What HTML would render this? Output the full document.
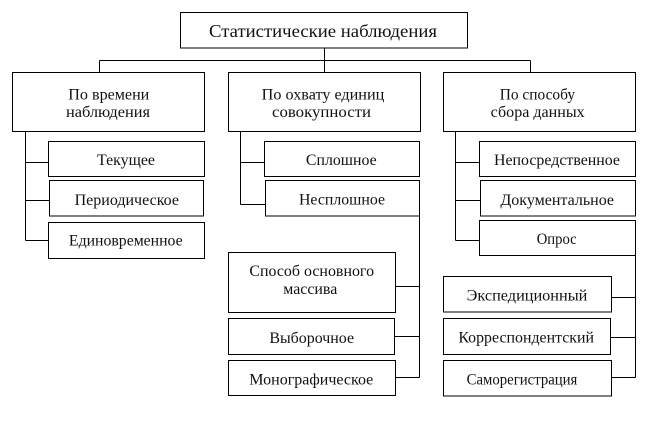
<!DOCTYPE html>
<html>
<head>
<meta charset="utf-8">
<style>
  html, body { margin: 0; padding: 0; background: #ffffff; }
  svg { display: block; }
  text { font-family: "Liberation Serif", "DejaVu Serif", serif; fill: #111; }
</style>
</head>
<body>
<svg width="648" height="432" viewBox="0 0 648 432" xmlns="http://www.w3.org/2000/svg">
  <rect x="0" y="0" width="648" height="432" fill="#ffffff"/>
  <g fill="none" stroke="#000" stroke-width="1">
    <!-- top box -->
    <rect x="180.5" y="12.5" width="287" height="35.5"/>
    <line x1="324.5" y1="48" x2="324.5" y2="60.5"/>
    <line x1="99.5" y1="60.5" x2="530.5" y2="60.5"/>
    <line x1="99.5" y1="60.5" x2="99.5" y2="72.5"/>
    <line x1="324.5" y1="60.5" x2="324.5" y2="72.5"/>
    <line x1="530.5" y1="60.5" x2="530.5" y2="72.5"/>

    <!-- level 1 boxes -->
    <rect x="12.5" y="72.5" width="192" height="59"/>
    <rect x="228.5" y="72.5" width="192" height="59"/>
    <rect x="443.5" y="72.5" width="192" height="59"/>

    <!-- column 1 -->
    <line x1="25.5" y1="131.5" x2="25.5" y2="240.5"/>
    <rect x="48.5" y="141.5" width="156" height="35"/>
    <line x1="25.5" y1="162.5" x2="48.5" y2="162.5"/>
    <rect x="49.5" y="180.5" width="154" height="35.5"/>
    <line x1="25.5" y1="200.5" x2="49.5" y2="200.5"/>
    <rect x="48.5" y="222.5" width="156" height="36"/>
    <line x1="25.5" y1="240.5" x2="48.5" y2="240.5"/>

    <!-- column 2 -->
    <line x1="240.5" y1="131.5" x2="240.5" y2="204.5"/>
    <rect x="264.5" y="141.5" width="155" height="35"/>
    <line x1="240.5" y1="162.5" x2="264.5" y2="162.5"/>
    <rect x="265.5" y="180.5" width="154" height="35.5"/>
    <line x1="240.5" y1="204.5" x2="265.5" y2="204.5"/>
    <line x1="419.5" y1="216" x2="419.5" y2="377.5"/>
    <rect x="228.5" y="252.5" width="167" height="60"/>
    <line x1="395.5" y1="286.5" x2="419.5" y2="286.5"/>
    <rect x="228.5" y="318.5" width="166" height="36"/>
    <line x1="394.5" y1="336.5" x2="419.5" y2="336.5"/>
    <rect x="228.5" y="360.5" width="167" height="35"/>
    <line x1="395.5" y1="377.5" x2="419.5" y2="377.5"/>

    <!-- column 3 -->
    <line x1="455.5" y1="131.5" x2="455.5" y2="240.5"/>
    <rect x="479.5" y="141.5" width="156" height="35"/>
    <line x1="455.5" y1="162.5" x2="479.5" y2="162.5"/>
    <rect x="480.5" y="180.5" width="155" height="35.5"/>
    <line x1="455.5" y1="200.5" x2="480.5" y2="200.5"/>
    <rect x="479.5" y="220.5" width="156" height="35"/>
    <line x1="455.5" y1="240.5" x2="479.5" y2="240.5"/>
    <line x1="635.5" y1="255.5" x2="635.5" y2="377.5"/>
    <rect x="443.5" y="276.5" width="168" height="35.5"/>
    <line x1="611.5" y1="297.5" x2="635.5" y2="297.5"/>
    <rect x="443.5" y="318.5" width="167" height="36"/>
    <line x1="610.5" y1="337.5" x2="635.5" y2="337.5"/>
    <rect x="443.5" y="360.5" width="168" height="35.5"/>
    <line x1="611.5" y1="377.5" x2="635.5" y2="377.5"/>
  </g>

  <g text-anchor="middle">
    <text x="323" y="37" font-size="18" textLength="228" lengthAdjust="spacingAndGlyphs">Статистические наблюдения</text>

    <text x="108.8" y="99.3" font-size="15.5" textLength="81" lengthAdjust="spacingAndGlyphs">По времени</text>
    <text x="108" y="117" font-size="15.5" textLength="84" lengthAdjust="spacingAndGlyphs">наблюдения</text>

    <text x="323" y="99.3" font-size="15.5" textLength="122.6" lengthAdjust="spacingAndGlyphs">По охвату единиц</text>
    <text x="321.5" y="117" font-size="15.5" textLength="99" lengthAdjust="spacingAndGlyphs">совокупности</text>

    <text x="537.4" y="99.3" font-size="15.5" textLength="75.3" lengthAdjust="spacingAndGlyphs">По способу</text>
    <text x="537.7" y="117" font-size="15.5" textLength="94" lengthAdjust="spacingAndGlyphs">сбора данных</text>

    <text x="126" y="165" font-size="15.5" textLength="58" lengthAdjust="spacingAndGlyphs">Текущее</text>
    <text x="126.8" y="205" font-size="15.5" textLength="104.3" lengthAdjust="spacingAndGlyphs">Периодическое</text>
    <text x="125.8" y="245.5" font-size="15.5" textLength="113.7" lengthAdjust="spacingAndGlyphs">Единовременное</text>

    <text x="341.3" y="165" font-size="15.5" textLength="70.7" lengthAdjust="spacingAndGlyphs">Сплошное</text>
    <text x="342" y="204.5" font-size="15.5" textLength="86" lengthAdjust="spacingAndGlyphs">Несплошное</text>
    <text x="311.7" y="276" font-size="15.5" textLength="124.7" lengthAdjust="spacingAndGlyphs">Способ основного</text>
    <text x="310.3" y="294" font-size="15.5" textLength="54" lengthAdjust="spacingAndGlyphs">массива</text>
    <text x="311.7" y="343" font-size="15.5" textLength="84.7" lengthAdjust="spacingAndGlyphs">Выборочное</text>
    <text x="311.3" y="384.3" font-size="15.5" textLength="124" lengthAdjust="spacingAndGlyphs">Монографическое</text>

    <text x="557" y="165" font-size="15.5" textLength="126" lengthAdjust="spacingAndGlyphs">Непосредственное</text>
    <text x="557.2" y="205" font-size="15.5" textLength="113.7" lengthAdjust="spacingAndGlyphs">Документальное</text>
    <text x="556.7" y="244" font-size="15.5" textLength="40" lengthAdjust="spacingAndGlyphs">Опрос</text>
    <text x="527" y="300.7" font-size="15.5" textLength="120.7" lengthAdjust="spacingAndGlyphs">Экспедиционный</text>
    <text x="526.2" y="342.7" font-size="15.5" textLength="135.7" lengthAdjust="spacingAndGlyphs">Корреспондентский</text>
    <text x="522" y="384.3" font-size="15.5" textLength="110.7" lengthAdjust="spacingAndGlyphs">Саморегистрация</text>
  </g>
</svg>
</body>
</html>
